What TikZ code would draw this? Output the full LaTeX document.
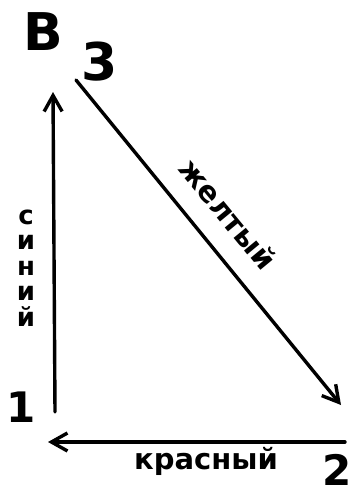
\documentclass[tikz,border=0pt]{standalone}
\usepackage{fontspec}
\setmainfont{DejaVu Sans}
\usetikzlibrary{arrows.meta}
\begin{document}
\begin{tikzpicture}[x=1pt,y=-1pt,
  edge/.style={line width=3.4pt,line cap=round,-{Straight Barb[length=16pt,width=18pt,line width=3.4pt]}},
  big/.style={inner sep=0pt,font=\bfseries\fontsize{52}{56}\selectfont},
  digit/.style={inner sep=0pt,font=\bfseries\fontsize{42}{44}\selectfont},
  lbl/.style={inner sep=1pt,font=\bfseries\fontsize{29}{29}\selectfont}]
\useasboundingbox (0,0) rectangle (351,490);
\node[big] (B) at (43,32) {В};
\node[big] (n3) at (100,62) {3};
\node[digit] (n1) at (21,407) {1};
\node[digit] (n2) at (337,470) {2};
\coordinate (v1) at (55,412);
\coordinate (v2) at (53,92);
\coordinate (d1) at (76,80);
\coordinate (d2) at (341,405);
\coordinate (h1) at (345,442);
\coordinate (h2) at (48,442);
\draw[edge] (v1) -- (v2);
\draw[edge] (d1) -- (d2);
\draw[edge] (h1) -- (h2);
\node[align=center,inner sep=1pt,font=\bfseries\fontsize{26}{25.5}\selectfont] (blue) at (26,268) {с\\и\\н\\и\\й};
\node[lbl,rotate=-50.5] (yellow) at (228,214) {желтый};
\node[lbl] (red) at (206,461) {красный};
\end{tikzpicture}
\end{document}
